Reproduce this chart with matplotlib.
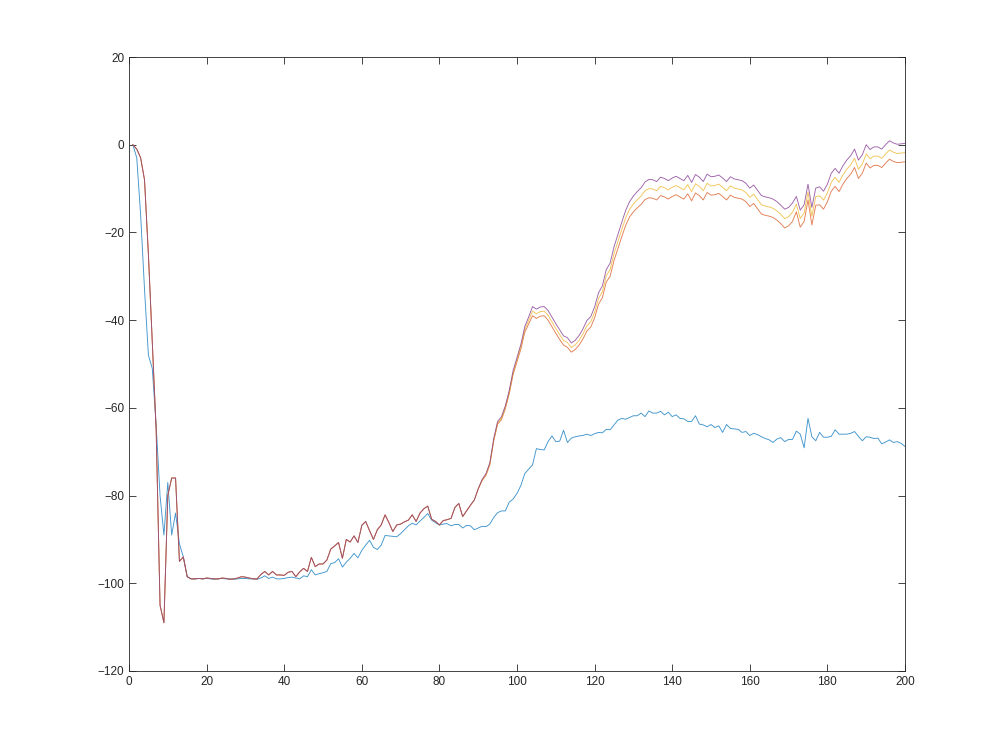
import numpy as np
import matplotlib
matplotlib.use("Agg")
import matplotlib.pyplot as plt

# sample index 1..200
x = np.arange(1, 201)

blue = [
    0, -3, -16, -33, -48, -51, -64, -80, -89, -77,
    -89, -84, -91, -94, -98.5, -99, -99, -98.9, -99, -98.9,
    -99, -99.1, -99, -98.9, -99, -99, -99.1, -99, -98.9, -98.9,
    -99, -99, -99.1, -98.8, -98.3, -98.9, -98.6, -99, -99, -98.9,
    -98.7, -98.6, -98.8, -99, -98.3, -98.5, -96.9, -98.1, -97.8, -97.6,
    -97.3, -95.5, -95.3, -94.4, -96.3, -95.2, -94.3, -93.2, -94.2, -92.5,
    -91.3, -90.2, -91.8, -92.3, -91.3, -89.1, -89.2, -89.3, -89.4, -88.7,
    -87.8, -86.9, -86.3, -86.7, -85.8, -85.0, -84.1, -85.6, -86.2, -86.7,
    -86.5, -86.4, -86.9, -86.6, -86.6, -87.4, -86.8, -86.9, -87.8, -87.4,
    -87.0, -87.1, -86.5, -85.0, -83.9, -83.5, -83.5, -81.5, -80.8, -79.5,
    -77.7, -75, -74, -73, -69.3, -69.5, -69.6, -67.7, -66.4, -67.7,
    -67.6, -65.1, -67.9, -66.9, -66.6, -66.4, -66.3, -66, -66.3, -65.9,
    -65.6, -65.7, -64.9, -65, -63.9, -62.8, -62.4, -62.6, -62.2, -61.8,
    -61.8, -61.2, -62, -60.7, -61.2, -61.2, -60.8, -61.6, -61, -62,
    -61.6, -62.4, -62.5, -63.1, -63.1, -61.8, -63.7, -63.9, -64.3, -63.8,
    -64.5, -64.1, -65.6, -63.8, -64.7, -64.8, -64.9, -65.6, -65.4, -66.3,
    -65.8, -66.1, -66.6, -67, -67.3, -67.9, -67.1, -66.8, -67.7, -67.2,
    -67.2, -65.3, -66, -69.1, -62.4, -66.6, -67.5, -65.6, -66.7, -66.7,
    -66.5, -65, -66, -66, -66, -65.8, -65.4, -66.5, -67.5, -66.6,
    -66.7, -67, -66.9, -68.2, -67.8, -67.3, -67.9, -67.7, -68.1, -68.8,
]

# samples 1..90, where the other three curves lie on top of each other
shared_head = [
    0, -1, -3, -8, -25, -45, -65, -105, -109, -80,
    -76, -76, -95, -94, -98.5, -99, -99, -98.9, -99, -98.8,
    -98.9, -99, -99, -98.8, -98.9, -99.1, -99, -98.8, -98.5, -98.6,
    -98.8, -99, -99, -98, -97.3, -98.1, -97.3, -98.1, -98.1, -98.2,
    -97.5, -97.3, -98.5, -97.4, -96.6, -97.3, -94.1, -96.2, -95.6, -95.6,
    -94.7, -92.2, -91.5, -90.7, -94.3, -90, -90.6, -89.2, -90.7, -86.8,
    -85.9, -88, -90, -87.8, -86.7, -84.4, -86.2, -88.2, -86.7, -86.5,
    -86.0, -85.6, -84.4, -85.9, -84, -83, -82.4, -85.4, -85.9, -86.7,
    -85.7, -85.5, -85.2, -82.7, -81.8, -84.8, -83.5, -82.2, -81, -78.5,
]

# samples 91..200
purple_tail = [
    -76.3, -75, -72.5, -67, -63.1, -62, -59.5, -56, -51.5, -48.5,
    -45.5, -41.5, -39.3, -36.9, -37.5, -37, -36.9, -37.8, -39.3, -40.8,
    -42.2, -43.6, -44, -45.2, -44.6, -43.5, -42, -40.1, -39.2, -37,
    -33.8, -32.2, -28.5, -27, -23.3, -20.5, -17.7, -15, -13, -11.7,
    -10.7, -9.8, -8.5, -7.9, -8, -8.4, -7.4, -7.7, -8.2, -7.6,
    -7.2, -7.7, -8.2, -7.0, -8.6, -6.8, -7.4, -8.4, -6.7, -7.3,
    -7.2, -6.9, -7.6, -8.4, -7.3, -7.8, -8, -8.2, -8.8, -9.9,
    -9.2, -10.4, -11.6, -11.9, -12.1, -12.4, -13, -13.8, -14.7, -14.3,
    -13.3, -11.8, -14.9, -13.7, -9, -14.3, -9.9, -9.6, -10.6, -9,
    -6.5, -5.4, -6.5, -4.8, -3.5, -2.5, -1.0, -3.5, -2.3, 0,
    -1.1, -0.5, -0.5, -1, 0, 0.9, 0.4, 0.1, 0.2, 0.3,
]

yellow_tail = [
    -76.45, -75.2, -72.75, -67.3, -63.4, -62.35, -59.85, -56.4, -51.95, -49,
    -46.05, -42.15, -40.1, -37.95, -38.55, -38.05, -37.95, -38.9, -40.4, -41.9,
    -43.3, -44.65, -45.1, -46.25, -45.65, -44.6, -43.15, -41.3, -40.4, -38.25,
    -35.1, -33.55, -29.9, -28.5, -24.85, -22.1, -19.35, -16.7, -14.75, -13.5,
    -12.55, -11.7, -10.5, -10, -10.1, -10.5, -9.5, -9.8, -10.3, -9.7,
    -9.3, -9.8, -10.3, -9.1, -10.7, -8.9, -9.5, -10.5, -8.8, -9.4,
    -9.3, -9, -9.7, -10.5, -9.4, -9.9, -10.1, -10.3, -10.9, -12,
    -11.3, -12.5, -13.7, -14, -14.2, -14.5, -15.1, -15.9, -16.85, -16.4,
    -15.4, -13.55, -16.85, -15.6, -10.8, -16.3, -11.85, -11.65, -12.65, -11,
    -8.55, -7.45, -8.6, -6.9, -5.6, -4.6, -3.1, -5.6, -4.4, -2.1,
    -3.2, -2.6, -2.6, -3.1, -2.1, -1.2, -1.7, -2, -1.9, -1.8,
]

orange_tail = [
    -76.6, -75.4, -73, -67.6, -63.7, -62.7, -60.2, -56.8, -52.4, -49.5,
    -46.6, -42.8, -40.9, -39, -39.6, -39.1, -39, -40, -41.5, -43,
    -44.4, -45.7, -46.2, -47.3, -46.7, -45.7, -44.3, -42.5, -41.6, -39.5,
    -36.4, -34.9, -31.3, -30, -26.4, -23.7, -21, -18.4, -16.5, -15.3,
    -14.4, -13.6, -12.5, -12.1, -12.2, -12.6, -11.6, -11.9, -12.4, -11.8,
    -11.4, -11.9, -12.4, -11.2, -12.8, -11, -11.6, -12.6, -10.9, -11.5,
    -11.4, -11.1, -11.8, -12.6, -11.5, -12, -12.2, -12.4, -13, -14.1,
    -13.4, -14.6, -15.8, -16.1, -16.3, -16.6, -17.2, -18, -19, -18.5,
    -17.5, -15.3, -18.8, -17.5, -12.6, -18.3, -13.8, -13.7, -14.7, -13,
    -10.6, -9.5, -10.7, -9, -7.7, -6.7, -5.2, -7.7, -6.5, -4.2,
    -5.3, -4.7, -4.7, -5.2, -4.2, -3.3, -3.8, -4.1, -4, -3.9,
]

orange = shared_head + orange_tail
yellow = shared_head + yellow_tail
purple = shared_head + purple_tail

colors = ['#0072BD', '#D95319', '#EDB120', '#7E2F8E']

plt.rcParams['font.family'] = ['Liberation Sans', 'DejaVu Sans']

fig = plt.figure(figsize=(10, 7.54), dpi=100, facecolor='white')
ax = fig.add_axes([0.129, 0.1101, 0.776, 0.8143])

for series, c in zip([blue, orange, yellow, purple], colors):
    ax.plot(x, series, color=c, lw=0.65, alpha=0.75)

ax.set_xlim(0, 200)
ax.set_ylim(-120, 20)
ax.set_xticks(np.arange(0, 201, 20))
ax.set_yticks(np.arange(-120, 21, 20))
ax.tick_params(direction='in', length=5, width=0.6, colors='#262626',
               labelsize=8.5, top=True, right=True, labeltop=False, labelright=False)
for s in ax.spines.values():
    s.set_color('#262626')
    s.set_linewidth(0.6)

fig.savefig('out.png', dpi=100, facecolor='white')
